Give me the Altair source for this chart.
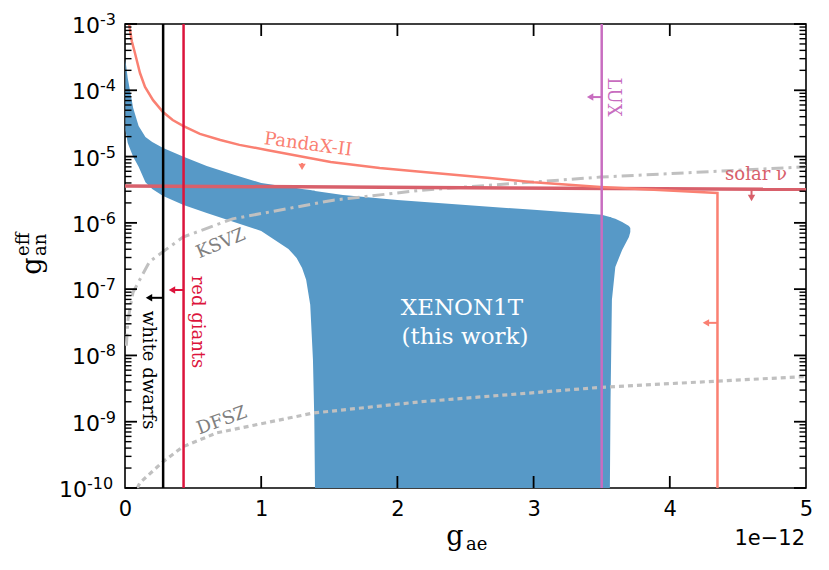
import altair as alt
import pandas as pd

W, H = 681, 464

# ---------------- data (g_ae in units of 1e-12) ----------------
xe_gae = [0.003, 0.02, 0.06, 0.1, 0.15, 0.2, 0.28, 0.43, 0.6, 0.8, 1.0, 1.1, 1.2, 1.26, 1.3,
          1.33, 1.36, 1.38, 1.39, 1.395, 1.6, 2.0, 2.5, 3.0, 3.5, 3.56, 3.565, 3.575, 3.6,
          3.65, 3.7, 3.71]
xe_upper = [2.86e-4, 1.53e-4, 5.4e-5, 2.9e-5, 1.98e-5, 1.66e-5, 1.35e-5, 9.9e-6, 7.2e-6, 5.3e-6,
            4.0e-6, 3.73e-6, 3.48e-6, 3.36e-6, 3.25e-6, 3.19e-6, 3.13e-6, 3.08e-6, 3.08e-6,
            3.03e-6, 2.64e-6, 2.21e-6, 1.86e-6, 1.57e-6, 1.32e-6, 1.23e-6, 1.23e-6, 1.19e-6,
            1.15e-6, 1.03e-6, 8.97e-7, 8.4e-7]
xe_lower = [2.52e-5, 1.6e-5, 9.9e-6, 7.0e-6, 4.1e-6, 3.25e-6, 2.55e-6, 1.86e-6, 1.41e-6, 1.03e-6,
            7.55e-7, 5.5e-7, 4.04e-7, 2.96e-7, 2.09e-7, 1.38e-7, 5.8e-8, 8.6e-9, 1.06e-9,
            1e-10, 1e-10, 1e-10, 1e-10, 1e-10, 1e-10, 1e-10, 2.13e-9, 6.9e-8, 2.16e-7,
            3.9e-7, 6.1e-7, 7.3e-7]

pandax_gae = [0.03, 0.05, 0.073, 0.11, 0.147, 0.206, 0.279, 0.35, 0.426, 0.55, 0.70, 0.84,
              1.04, 1.51, 1.87, 2.17, 2.68, 3.0, 3.49, 4.35, 4.35]
pandax_gan = [1e-3, 5.5e-4, 3.65e-4, 1.82e-4, 1.12e-4, 7.1e-5, 4.7e-5, 3.56e-5, 2.9e-5,
              2.2e-5, 1.78e-5, 1.5e-5, 1.26e-5, 8.3e-6, 6.7e-6, 5.9e-6, 4.75e-6, 4.1e-6,
              3.48e-6, 2.82e-6, 1e-10]

solar_gae = [0.0, 5.0]
solar_gan = [3.6e-6, 3.2e-6]

ksvz_gae = [0.01, 0.022, 0.059, 0.18, 0.426, 0.79, 1.53, 2.17, 3.49, 5.0]
ksvz_gan = [1.4e-8, 3.5e-8, 9e-8, 2.6e-7, 6.1e-7, 1.15e-6, 2.2e-6, 3.1e-6, 4.9e-6, 7.0e-6]

dfsz_gae = [0.09, 0.11, 0.28, 0.426, 0.675, 1.38, 2.17, 3.49, 4.35, 5.0]
dfsz_gan = [1e-10, 1.2e-10, 2.5e-10, 4.2e-10, 6.8e-10, 1.35e-9, 2.0e-9, 3.3e-9, 4.1e-9, 4.8e-9]

wd_limit = 0.28
rg_limit = 0.43
lux_limit = 3.5

x_ticks = [0, 1, 2, 3, 4, 5]
x_inner_ticks = [1, 2, 3, 4]
y_ticks = [1e-10, 1e-9, 1e-8, 1e-7, 1e-6, 1e-5, 1e-4, 1e-3]
y_tick_exps = ["-10", "-9", "-8", "-7", "-6", "-5", "-4", "-3"]
y_minor = [m * 10.0 ** k for k in range(-10, -3) for m in range(2, 10)]

# ---------------- styles ----------------
BLUE = "#5799C7"
SALMON = "#FA8072"
SOLAR = "#D8606B"
LUXC = "#C86DC0"
RG = "#DC143C"
GREY = "#C0C0C0"
GREYT = "#808080"
SERIF = "DejaVu Serif"
SANS = "DejaVu Sans"

xs = alt.Scale(domain=[0, 5], nice=False, zero=False)
ys = alt.Scale(type="log", domain=[1e-10, 1e-3], nice=False)

xaxis = alt.Axis(values=x_ticks, format="d", ticks=False, domain=False, grid=False,
                 labelFont=SANS, labelFontSize=21, labelPadding=10, labelColor="black",
                 labelFlush=False, labelOverlap=False, title=None)
yaxis = alt.Axis(values=y_ticks, labels=False, ticks=False, domain=False, grid=False,
                 title=None)


def X(f):
    return alt.X(f, type="quantitative", scale=xs, axis=xaxis)


def Y(f):
    return alt.Y(f, type="quantitative", scale=ys, axis=yaxis)


layers = []

# XENON1T region
xe_df = pd.DataFrame({"x": xe_gae, "up": xe_upper, "lo": xe_lower})
layers.append(alt.Chart(xe_df).mark_area(color=BLUE, opacity=1, clip=True).encode(
    x=X("x"), y=Y("up"), y2="lo"))

# DFSZ / KSVZ
dfsz_df = pd.DataFrame({"x": dfsz_gae, "y": dfsz_gan})
layers.append(alt.Chart(dfsz_df).mark_line(color=GREY, strokeWidth=3.2, strokeDash=[5, 4],
                                           clip=True).encode(x=X("x"), y=Y("y")))
ksvz_df = pd.DataFrame({"x": ksvz_gae, "y": ksvz_gan})
layers.append(alt.Chart(ksvz_df).mark_line(color=GREY, strokeWidth=3, strokeDash=[12, 5, 3, 5],
                                           clip=True).encode(x=X("x"), y=Y("y")))

# solar nu
solar_df = pd.DataFrame({"x": solar_gae, "y": solar_gan})
layers.append(alt.Chart(solar_df).mark_line(color=SOLAR, strokeWidth=3.5, clip=True).encode(
    x=X("x"), y=Y("y")))

# PandaX-II
px_df = pd.DataFrame({"x": pandax_gae, "y": pandax_gan, "o": list(range(len(pandax_gae)))})
layers.append(alt.Chart(px_df).mark_line(color=SALMON, strokeWidth=2.5, clip=True).encode(
    x=X("x"), y=Y("y"), order="o:Q"))

# vertical limits
vl_df = pd.DataFrame({"x": [wd_limit, rg_limit, lux_limit], "c": ["black", RG, LUXC]})
layers.append(alt.Chart(vl_df).mark_rule(strokeWidth=2.5).encode(
    x=X("x"), color=alt.Color("c:N", scale=None)))


# arrows
def harrow(y, x0, x1, color):
    d = pd.DataFrame({"y": [y], "x0": [x0], "x1": [x1]})
    r = alt.Chart(d).mark_rule(color=color, strokeWidth=2).encode(x=X("x0"), x2="x1", y=Y("y"))
    p = alt.Chart(d).mark_point(shape="triangle-left", filled=True, size=55, color=color,
                                opacity=1).encode(x=X("x1"), y=Y("y"))
    return [r, p]


def varrow(x, y0, y1, color):
    d = pd.DataFrame({"x": [x], "y0": [y0], "y1": [y1]})
    r = alt.Chart(d).mark_rule(color=color, strokeWidth=2).encode(x=X("x"), y=Y("y0"), y2="y1")
    p = alt.Chart(d).mark_point(shape="triangle-down", filled=True, size=55, color=color,
                                opacity=1).encode(x=X("x"), y=Y("y1"))
    return [r, p]


layers += harrow(7.9e-5, lux_limit, 3.415, LUXC)
layers += harrow(9.7e-8, rg_limit, 0.345, RG)
layers += harrow(7.4e-8, wd_limit, 0.176, "black")
layers += harrow(3.1e-8, 4.35, 4.265, SALMON)
layers += varrow(1.30, 8.0e-6, 7.0e-6, SALMON)
layers += varrow(4.60, 3.25e-6, 2.37e-6, SOLAR)


# data-positioned labels
def dlabel(text, x, y, color, size=18, angle=0, font=SERIF):
    d = pd.DataFrame({"x": [x], "y": [y]})
    return alt.Chart(d).mark_text(text=text, color=color, fontSize=size, angle=angle, font=font,
                                  align="center", baseline="middle").encode(x=X("x"), y=Y("y"))


layers.append(dlabel("PandaX-II", 1.344, 1.5e-5, SALMON, angle=7.5))
layers.append(dlabel("solar ν", 4.633, 5.3e-6, SOLAR))
layers.append(dlabel("LUX", 3.583, 7.9e-5, LUXC, angle=90))
layers.append(dlabel("red giants", 0.529, 3.2e-8, RG, angle=90))
layers.append(dlabel("white dwarfs", 0.169, 6.0e-9, "black", angle=90))
layers.append(dlabel("KSVZ", 0.705, 4.8e-7, GREYT, angle=337))
layers.append(dlabel("DFSZ", 0.712, 1.03e-9, GREYT, angle=340))
layers.append(dlabel("XENON1T", 2.474, 5.2e-8, "white", size=23))
layers.append(dlabel("(this work)", 2.496, 1.9e-8, "white", size=23))

# y tick labels: "10" with raised exponent
ylab = pd.DataFrame({"v": y_ticks, "e": y_tick_exps})
ylab["wide"] = ylab["e"].str.len() > 2
for wide, xpos in [(False, -25), (True, -38)]:
    sub = ylab[ylab["wide"] == wide]
    layers.append(alt.Chart(sub).mark_text(text="10", font=SANS, fontSize=22, color="black",
                                           align="right", baseline="middle", dy=2).encode(
        y=Y("v"), x=alt.value(xpos)))
    layers.append(alt.Chart(sub).mark_text(font=SANS, fontSize=16, color="black",
                                           align="left", baseline="middle", dy=-4).encode(
        y=Y("v"), x=alt.value(xpos), text="e:N"))

# inward ticks
ymaj = pd.DataFrame({"v": y_ticks})
ymin = pd.DataFrame({"v": y_minor})
xin = pd.DataFrame({"v": x_inner_ticks})
for x0, x1 in [(0, 12), (W - 12, W)]:
    layers.append(alt.Chart(ymaj).mark_rule(color="black", strokeWidth=1.8).encode(
        y=Y("v"), x=alt.value(x0), x2=alt.value(x1)))
for x0, x1 in [(0, 6.5), (W - 6.5, W)]:
    layers.append(alt.Chart(ymin).mark_rule(color="black", strokeWidth=1.4).encode(
        y=Y("v"), x=alt.value(x0), x2=alt.value(x1)))
for y0, y1 in [(H - 12, H), (0, 12)]:
    layers.append(alt.Chart(xin).mark_rule(color="black", strokeWidth=1.8).encode(
        x=X("v"), y=alt.value(y0), y2=alt.value(y1)))


# axis titles / offset text in pixel space
def ptext(text, x, y, size, font=SERIF, angle=0, align="center", baseline="alphabetic"):
    d = pd.DataFrame({"t": [text]})
    return alt.Chart(d).mark_text(text=text, color="black", fontSize=size, font=font, angle=angle,
                                  align=align, baseline=baseline).encode(
        x=alt.value(x), y=alt.value(y))


layers.append(ptext("g", 330, 521, 27))
layers.append(ptext("ae", 341, 526, 18, align="left"))
layers.append(ptext("1e−12", 680, 521, 21, font=SANS, align="right"))
layers.append(ptext("g", -84, 242, 27, angle=270))
layers.append(ptext("eff", -96, 232, 18, angle=270, align="left"))
layers.append(ptext("an", -79, 232, 18, angle=270, align="left"))

chart = alt.layer(*layers).properties(
    width=W, height=H,
    autosize=alt.AutoSizeParams(type="none"),
    padding={"left": 117, "top": 16, "right": 10, "bottom": 70},
).configure_view(stroke="black", strokeWidth=1.6)

chart.save("out.html", embed_options={"renderer": "svg", "actions": False})
